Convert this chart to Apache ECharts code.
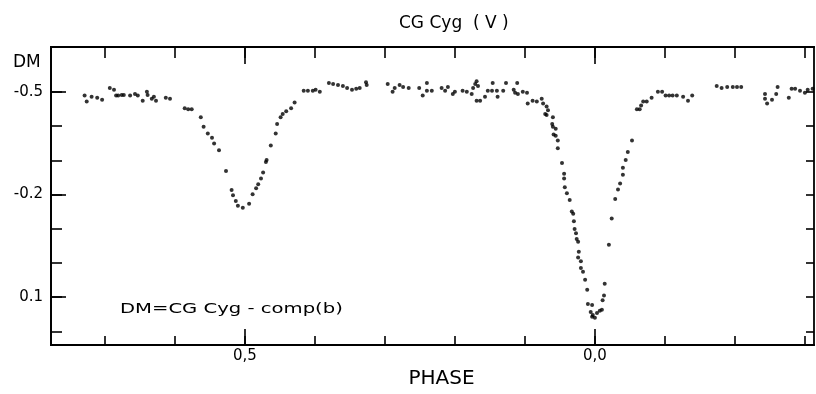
<!DOCTYPE html>
<html>
<head>
<meta charset="utf-8">
<script src="https://cdn.jsdelivr.net/npm/echarts@6/dist/echarts.min.js"></script>
<style>html,body{margin:0;padding:0;background:#fff}#c{width:816px;height:394px}</style>
</head>
<body>
<div id="c"></div>
<script>
// Phase values (0,5 at left, 0,0 at right; right of 0,0 = negative phase offset)
var phase = [0.729,0.726,0.719,0.711,0.704,0.693,0.687,0.684,0.681,0.676,0.673,0.664,0.657,0.653,0.646,0.640,0.639,0.633,0.630,0.627,0.613,0.607,0.586,0.581,0.576,0.563,0.559,0.553,0.547,0.544,0.537,0.527,0.519,0.517,0.513,0.510,0.503,0.494,0.489,0.484,0.481,0.477,0.474,0.470,0.469,0.463,0.456,0.454,0.449,0.446,0.441,0.434,0.429,0.416,0.410,0.403,0.399,0.393,0.380,0.374,0.367,0.360,0.354,0.347,0.341,0.336,0.327,0.326,0.296,0.289,0.286,0.279,0.274,0.266,0.251,0.246,0.240,0.240,0.233,0.219,0.214,0.210,0.203,0.200,0.189,0.183,0.176,0.174,0.171,0.169,0.167,0.169,0.164,0.157,0.153,0.146,0.147,0.140,0.139,0.131,0.127,0.116,0.114,0.111,0.110,0.103,0.097,0.096,0.089,0.083,0.076,0.074,0.069,0.067,0.071,0.069,0.061,0.060,0.060,0.056,0.059,0.056,0.053,0.053,0.047,0.044,0.044,0.043,0.040,0.036,0.033,0.031,0.030,0.029,0.027,0.026,0.024,0.023,0.024,0.020,0.020,0.017,0.014,0.011,0.010,0.004,0.006,0.003,0.004,0.000,-0.003,-0.007,-0.010,-0.011,-0.013,-0.014,-0.020,-0.024,-0.029,-0.033,-0.036,-0.040,-0.040,-0.044,-0.047,-0.053,-0.060,-0.064,-0.066,-0.069,-0.074,-0.081,-0.090,-0.096,-0.101,-0.106,-0.111,-0.117,-0.126,-0.133,-0.139,-0.174,-0.181,-0.189,-0.197,-0.203,-0.209,-0.243,-0.243,-0.246,-0.253,-0.259,-0.261,-0.277,-0.281,-0.286,-0.293,-0.300,-0.304,-0.311];
var dm = [-0.489,-0.472,-0.486,-0.483,-0.477,-0.511,-0.506,-0.489,-0.489,-0.491,-0.491,-0.489,-0.494,-0.489,-0.474,-0.500,-0.491,-0.480,-0.486,-0.474,-0.483,-0.480,-0.452,-0.449,-0.449,-0.426,-0.398,-0.378,-0.366,-0.349,-0.329,-0.269,-0.213,-0.198,-0.181,-0.167,-0.161,-0.173,-0.201,-0.218,-0.230,-0.247,-0.264,-0.295,-0.301,-0.343,-0.378,-0.406,-0.426,-0.435,-0.443,-0.452,-0.469,-0.503,-0.503,-0.503,-0.506,-0.500,-0.526,-0.523,-0.520,-0.517,-0.511,-0.506,-0.509,-0.511,-0.528,-0.520,-0.523,-0.500,-0.511,-0.520,-0.514,-0.511,-0.511,-0.489,-0.526,-0.503,-0.503,-0.511,-0.503,-0.514,-0.494,-0.500,-0.503,-0.500,-0.494,-0.511,-0.523,-0.531,-0.517,-0.474,-0.474,-0.486,-0.503,-0.526,-0.503,-0.503,-0.486,-0.503,-0.526,-0.506,-0.497,-0.526,-0.494,-0.500,-0.497,-0.466,-0.474,-0.472,-0.480,-0.466,-0.457,-0.446,-0.435,-0.432,-0.406,-0.426,-0.398,-0.392,-0.375,-0.372,-0.358,-0.335,-0.292,-0.261,-0.247,-0.221,-0.204,-0.184,-0.150,-0.144,-0.122,-0.099,-0.087,-0.070,-0.062,-0.033,-0.016,-0.005,0.015,0.026,0.049,0.078,0.120,0.123,0.143,0.152,0.157,0.160,0.146,0.140,0.137,0.109,0.095,0.061,-0.053,-0.130,-0.187,-0.215,-0.232,-0.258,-0.278,-0.301,-0.324,-0.358,-0.449,-0.449,-0.460,-0.472,-0.472,-0.483,-0.500,-0.500,-0.489,-0.489,-0.489,-0.489,-0.486,-0.474,-0.489,-0.517,-0.511,-0.514,-0.514,-0.514,-0.514,-0.494,-0.480,-0.466,-0.477,-0.494,-0.514,-0.483,-0.509,-0.509,-0.503,-0.497,-0.506,-0.509];
var xTicks = [0.7,0.6,0.5,0.4,0.3,0.2,0.1,0,-0.1,-0.2,-0.3];
var xMajor = [0.5,0];
var yTicks = [-0.5,-0.4,-0.3,-0.2,-0.1,0,0.1,0.2];
var yMajor = [-0.5,-0.2,0.1];

var XMIN = -0.313, XMAX = 0.777, YMIN = -0.631, YMAX = 0.24;
var FONT = 'DejaVu Sans';
var pts = phase.map(function (p, i) { return [p, dm[i]]; });

function xAx(pos, ticks, len, labels, extra) {
  var a = {
    type: 'value', position: pos, inverse: true, min: XMIN, max: XMAX,
    axisLine: { show: true, onZero: false, lineStyle: { color: '#000', width: 1.8 } },
    axisTick: { show: true, inside: true, length: len, customValues: ticks, lineStyle: { color: '#000', width: 1.6 } },
    axisLabel: labels ? { show: true, customValues: xMajor, margin: 4, color: '#000', fontFamily: FONT, fontSize: 15,
      formatter: function (v) { return v.toFixed(1).replace('.', ','); } } : { show: false },
    splitLine: { show: false }
  };
  for (var k in extra) a[k] = extra[k];
  return a;
}
function yAx(pos, ticks, len, labels) {
  return {
    type: 'value', position: pos, inverse: true, min: YMIN, max: YMAX,
    axisLine: { show: true, onZero: false, lineStyle: { color: '#000', width: 1.8 } },
    axisTick: { show: true, inside: true, length: len, customValues: ticks, lineStyle: { color: '#000', width: 1.6 } },
    axisLabel: labels ? { show: true, customValues: yMajor, margin: 8, color: '#000', fontFamily: FONT, fontSize: 15,
      formatter: function (v) { return v.toFixed(1); } } : { show: false },
    splitLine: { show: false }
  };
}

var chart = echarts.init(document.getElementById('c'), null, { renderer: 'canvas' });
chart.setOption({
  animation: false,
  backgroundColor: '#fff',
  title: { text: 'CG Cyg  ( V )', left: 394, top: 10,
    textStyle: { fontFamily: FONT, fontSize: 17, fontWeight: 'normal', color: '#000' } },
  grid: { left: 51, right: 2, top: 47, bottom: 39, containLabel: false },
  xAxis: [
    xAx('bottom', xTicks, 9, true, { name: 'PHASE', nameLocation: 'middle', nameGap: 13,
      nameTextStyle: { fontFamily: FONT, fontSize: 20, color: '#000', padding: [0, 0, 0, 18] } }),
    xAx('bottom', xMajor, 16, false, {}),
    xAx('top', xTicks, 11, false, {}),
    xAx('top', xMajor, 17, false, {})
  ],
  yAxis: [
    yAx('left', yTicks, 11, false),
    yAx('left', yMajor, 15, true),
    yAx('right', yTicks, 8, false)
  ],
  graphic: [
    { type: 'text', left: 13, top: 54, style: { text: 'DM', fontFamily: FONT, fontSize: 17, fill: '#000' } },
    { type: 'text', x: 120, y: 302, scaleX: 1.4, style: { text: 'DM=CG Cyg - comp(b)', fontFamily: FONT, fontSize: 14, fill: '#000' } }
  ],
  series: [{
    type: 'scatter', xAxisIndex: 0, yAxisIndex: 0, data: pts,
    symbol: 'circle', symbolSize: 4, itemStyle: { color: '#000' }
  }]
});
</script>
</body>
</html>
